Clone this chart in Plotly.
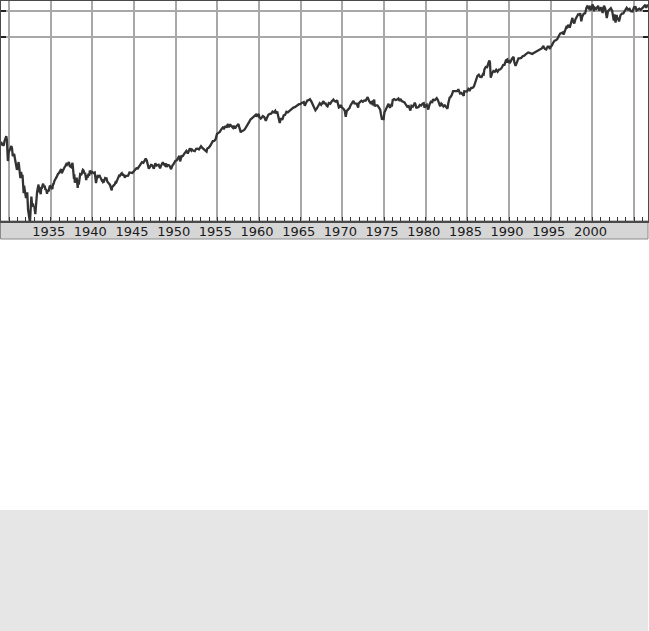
import plotly.graph_objects as go

# Dow Jones Industrial Average (log scale)
dates = [
    "1928-12-15",
    "1929-01-15", "1929-02-15", "1929-03-15", "1929-05-15", "1929-06-15", "1929-07-15", "1929-08-15", "1929-09-03", "1929-10-01", "1929-10-29", "1929-11-13", "1929-12-15",
    "1930-01-15", "1930-02-15", "1930-04-17", "1930-05-15", "1930-06-15", "1930-07-15", "1930-08-15", "1930-09-15", "1930-10-15", "1930-11-15", "1930-12-15",
    "1931-01-15", "1931-02-24", "1931-03-15", "1931-04-15", "1931-05-15", "1931-06-15", "1931-07-15", "1931-08-15", "1931-09-15", "1931-10-05", "1931-10-25", "1931-11-15", "1931-12-15",
    "1932-01-15", "1932-02-15", "1932-03-10", "1932-04-15", "1932-05-15", "1932-06-15", "1932-07-08", "1932-08-15", "1932-09-07", "1932-10-15", "1932-11-15", "1932-12-15",
    "1933-01-15", "1933-02-27", "1933-03-15", "1933-04-15", "1933-05-15", "1933-06-15", "1933-07-18", "1933-07-21", "1933-08-15", "1933-09-15", "1933-10-20", "1933-11-15", "1933-12-15",
    "1934-01-15", "1934-02-05", "1934-03-15", "1934-04-15", "1934-05-15", "1934-06-15", "1934-07-26", "1934-08-15", "1934-09-15", "1934-10-15", "1934-11-15", "1934-12-15",
    "1935-01-15", "1935-03-14", "1935-04-15", "1935-05-15", "1935-06-15", "1935-07-15", "1935-08-15", "1935-09-15", "1935-10-15", "1935-11-15", "1935-12-15",
    "1936-01-15", "1936-02-15", "1936-04-06", "1936-04-30", "1936-06-15", "1936-08-15", "1936-10-15", "1936-11-15", "1936-12-15",
    "1937-01-15", "1937-03-10", "1937-04-15", "1937-06-15", "1937-08-14", "1937-09-15", "1937-10-19", "1937-11-01", "1937-11-24", "1937-12-15",
    "1938-01-15", "1938-02-15", "1938-03-31", "1938-04-15", "1938-05-15", "1938-06-15", "1938-07-15", "1938-08-15", "1938-09-15", "1938-10-15", "1938-11-12", "1938-12-15",
    "1939-01-15", "1939-02-15", "1939-03-15", "1939-04-08", "1939-05-15", "1939-06-15", "1939-07-15", "1939-08-15", "1939-09-12", "1939-10-15", "1939-11-15", "1939-12-15",
    "1940-01-15", "1940-02-15", "1940-04-15", "1940-05-15", "1940-06-10", "1940-07-15", "1940-08-15", "1940-09-15", "1940-10-15", "1940-11-09", "1940-12-15",
    "1941-01-15", "1941-02-15", "1941-03-15", "1941-04-15", "1941-05-15", "1941-06-15", "1941-07-15", "1941-08-15", "1941-09-15", "1941-10-15", "1941-11-15", "1941-12-15",
    "1942-01-15", "1942-02-15", "1942-03-15", "1942-04-28", "1942-05-15", "1942-06-15", "1942-07-15", "1942-08-15", "1942-09-15", "1942-10-15", "1942-11-15", "1942-12-15",
    "1943-01-15", "1943-02-15", "1943-03-15", "1943-04-15", "1943-05-15", "1943-06-15", "1943-07-14", "1943-08-15", "1943-09-15", "1943-10-15", "1943-11-30", "1943-12-15",
    "1944-02-15", "1944-04-15", "1944-06-15", "1944-08-15", "1944-10-15", "1944-12-15",
    "1945-02-15", "1945-04-15", "1945-06-15", "1945-08-15", "1945-10-15", "1945-12-15",
    "1946-02-15", "1946-05-29", "1946-07-15", "1946-08-15", "1946-09-15", "1946-10-09", "1946-11-15", "1946-12-15",
    "1947-01-15", "1947-02-15", "1947-03-15", "1947-05-17", "1947-06-15", "1947-07-24", "1947-09-15", "1947-11-15", "1947-12-15",
    "1948-02-15", "1948-03-15", "1948-04-15", "1948-06-15", "1948-07-15", "1948-08-15", "1948-09-15", "1948-10-15", "1948-11-30",
    "1949-01-15", "1949-03-15", "1949-04-15", "1949-06-13", "1949-07-15", "1949-08-15", "1949-09-15", "1949-10-15", "1949-11-15", "1949-12-15",
    "1950-02-15", "1950-04-15", "1950-06-12", "1950-07-13", "1950-08-15", "1950-09-15", "1950-10-15", "1950-11-15", "1950-12-15",
    "1951-02-15", "1951-04-15", "1951-06-15", "1951-07-15", "1951-09-13", "1951-11-15", "1951-12-15",
    "1952-02-15", "1952-04-15", "1952-06-15", "1952-08-15", "1952-10-15", "1952-12-15",
    "1953-01-15", "1953-03-15", "1953-05-15", "1953-06-15", "1953-08-15", "1953-09-14", "1953-10-15", "1953-12-15",
    "1954-02-15", "1954-04-15", "1954-06-15", "1954-08-15", "1954-10-15", "1954-12-15",
    "1955-02-15", "1955-04-15", "1955-06-15", "1955-08-15", "1955-09-23", "1955-09-26", "1955-11-15", "1955-12-15",
    "1956-02-15", "1956-04-06", "1956-05-15", "1956-07-15", "1956-08-15", "1956-10-15", "1956-11-15", "1956-12-15",
    "1957-02-15", "1957-04-15", "1957-07-12", "1957-08-15", "1957-10-22", "1957-12-15",
    "1958-02-15", "1958-04-15", "1958-06-15", "1958-08-15", "1958-10-15", "1958-12-15",
    "1959-02-15", "1959-04-15", "1959-06-15", "1959-08-15", "1959-09-15", "1959-10-15", "1959-12-15",
    "1960-01-15", "1960-03-15", "1960-05-15", "1960-06-15", "1960-08-15", "1960-10-25", "1960-12-15",
    "1961-02-15", "1961-04-15", "1961-06-15", "1961-08-15", "1961-10-15", "1961-12-13",
    "1962-01-15", "1962-03-15", "1962-05-15", "1962-06-26", "1962-08-15", "1962-10-15", "1962-12-15",
    "1963-02-15", "1963-04-15", "1963-06-15", "1963-08-15", "1963-10-15", "1963-12-15",
    "1964-02-15", "1964-04-15", "1964-06-15", "1964-08-15", "1964-10-15", "1964-12-15",
    "1965-02-15", "1965-05-15", "1965-06-28", "1965-08-15", "1965-10-15", "1965-12-15",
    "1966-02-09", "1966-04-15", "1966-06-15", "1966-08-15", "1966-10-07", "1966-12-15",
    "1967-02-15", "1967-04-15", "1967-06-15", "1967-08-15", "1967-09-25", "1967-11-15", "1967-12-15",
    "1968-02-15", "1968-03-21", "1968-05-15", "1968-07-15", "1968-09-15", "1968-11-15", "1968-12-03",
    "1969-01-15", "1969-03-15", "1969-05-14", "1969-07-29", "1969-09-15", "1969-10-15", "1969-12-15",
    "1970-02-15", "1970-04-15", "1970-05-26", "1970-07-15", "1970-09-15", "1970-11-15", "1970-12-15",
    "1971-02-15", "1971-04-28", "1971-06-15", "1971-08-15", "1971-09-15", "1971-11-23", "1971-12-15",
    "1972-02-15", "1972-04-15", "1972-06-15", "1972-08-15", "1972-10-15", "1972-12-15",
    "1973-01-11", "1973-03-15", "1973-05-15", "1973-07-15", "1973-08-22", "1973-10-26", "1973-11-15", "1973-12-15",
    "1974-02-15", "1974-03-15", "1974-05-15", "1974-07-15", "1974-08-15", "1974-10-04", "1974-11-15", "1974-12-06",
    "1975-01-15", "1975-03-15", "1975-05-15", "1975-07-15", "1975-09-15", "1975-11-15", "1975-12-15",
    "1976-01-15", "1976-03-15", "1976-05-15", "1976-07-15", "1976-09-21", "1976-11-15", "1976-12-15",
    "1977-02-15", "1977-04-15", "1977-06-15", "1977-08-15", "1977-10-15", "1977-12-15",
    "1978-02-28", "1978-04-15", "1978-06-15", "1978-08-15", "1978-09-08", "1978-10-15", "1978-11-14", "1978-12-15",
    "1979-02-15", "1979-04-15", "1979-06-15", "1979-08-15", "1979-10-05", "1979-11-07", "1979-12-15",
    "1980-02-15", "1980-04-21", "1980-06-15", "1980-08-15", "1980-10-15", "1980-11-20", "1980-12-15",
    "1981-02-15", "1981-04-27", "1981-06-15", "1981-08-15", "1981-09-25", "1981-11-15", "1981-12-15",
    "1982-02-15", "1982-04-15", "1982-06-15", "1982-08-12", "1982-09-15", "1982-10-15", "1982-11-15", "1982-12-15",
    "1983-02-15", "1983-04-15", "1983-06-15", "1983-08-15", "1983-10-15", "1983-11-29", "1983-12-15",
    "1984-02-15", "1984-04-15", "1984-06-15", "1984-07-24", "1984-08-15", "1984-10-15", "1984-12-15",
    "1985-02-15", "1985-04-15", "1985-06-15", "1985-08-15", "1985-10-15", "1985-12-15",
    "1986-01-15", "1986-03-15", "1986-05-15", "1986-07-15", "1986-09-15", "1986-11-15", "1986-12-15",
    "1987-01-15", "1987-03-15", "1987-05-15", "1987-07-15", "1987-08-25", "1987-09-15", "1987-10-19", "1987-11-15", "1987-12-15",
    "1988-02-15", "1988-04-15", "1988-06-15", "1988-08-15", "1988-10-15", "1988-12-15",
    "1989-02-15", "1989-04-15", "1989-06-15", "1989-08-15", "1989-10-09", "1989-10-13", "1989-12-15",
    "1990-01-30", "1990-03-15", "1990-05-15", "1990-07-16", "1990-08-15", "1990-10-11", "1990-12-15",
    "1991-02-15", "1991-04-15", "1991-06-15", "1991-08-15", "1991-10-15", "1991-12-15",
    "1992-02-15", "1992-04-15", "1992-06-15", "1992-08-15", "1992-10-15", "1992-12-15",
    "1993-02-15", "1993-04-15", "1993-06-15", "1993-08-15", "1993-10-15", "1993-12-15",
    "1994-01-31", "1994-04-15", "1994-06-15", "1994-08-15", "1994-10-15", "1994-11-23", "1994-12-15",
    "1995-02-15", "1995-04-15", "1995-06-15", "1995-08-15", "1995-10-15", "1995-12-15",
    "1996-02-15", "1996-04-15", "1996-06-15", "1996-07-16", "1996-09-15", "1996-11-15", "1996-12-15",
    "1997-02-15", "1997-04-11", "1997-06-15", "1997-08-06", "1997-08-29", "1997-10-27", "1997-12-15",
    "1998-02-15", "1998-04-15", "1998-06-15", "1998-07-17", "1998-08-31", "1998-10-15", "1998-12-15",
    "1999-02-15", "1999-04-15", "1999-05-13", "1999-07-15", "1999-08-25", "1999-10-15", "1999-12-31",
    "2000-01-14", "2000-03-07", "2000-04-15", "2000-06-15", "2000-08-15", "2000-09-06", "2000-10-18", "2000-12-15",
    "2001-01-15", "2001-03-22", "2001-05-21", "2001-07-15", "2001-09-21", "2001-11-15", "2001-12-15",
    "2002-03-19", "2002-05-15", "2002-07-23", "2002-08-22", "2002-10-09", "2002-11-27", "2002-12-15",
    "2003-02-15", "2003-03-11", "2003-05-15", "2003-07-15", "2003-09-15", "2003-11-15", "2003-12-31",
    "2004-02-11", "2004-04-15", "2004-06-15", "2004-08-12", "2004-10-25", "2004-12-28",
    "2005-03-04", "2005-04-20", "2005-06-15", "2005-08-15", "2005-10-21", "2005-12-15",
    "2006-02-15", "2006-05-10", "2006-06-13", "2006-07-15", "2006-08-15", "2006-09-15",
]

dow = [
    300,
    317, 317, 308, 297, 333, 347, 370, 381, 343, 230, 199, 248,
    267, 271, 294, 275, 226, 233, 240, 214, 190, 183, 158,
    167, 194, 178, 151, 128, 150, 135, 139, 110, 86, 105, 93, 78,
    76, 81, 88, 56, 45, 44, 41, 73, 79, 61, 66, 60,
    61, 50, 60, 77, 89, 98, 108, 88, 102, 94, 84, 98, 99,
    107, 110, 101, 105, 94, 96, 85, 93, 90, 93, 103, 104,
    101, 96, 109, 110, 119, 126, 127, 131, 140, 142, 144,
    149, 152, 161, 145, 157, 166, 177, 184, 180,
    185, 194, 175, 170, 190, 154, 125, 141, 113, 121,
    121, 129, 99, 114, 108, 134, 141, 139, 141, 151, 158, 155,
    144, 147, 131, 121, 138, 130, 143, 135, 155, 152, 146, 150,
    145, 146, 148, 116, 112, 127, 134, 132, 134, 138, 131,
    124, 121, 123, 115, 116, 123, 128, 127, 127, 117, 115, 111,
    109, 107, 100, 93, 101, 104, 106, 107, 109, 115, 114, 120,
    125, 132, 136, 135, 143, 143, 145, 137, 140, 138, 129, 135,
    135, 136, 148, 147, 146, 152,
    160, 165, 164, 174, 187, 193,
    190, 212, 201, 190, 172, 163, 169, 177,
    180, 179, 177, 163, 177, 187, 177, 179, 181,
    165, 177, 180, 193, 181, 181, 178, 188, 171,
    179, 178, 174, 161, 175, 178, 182, 189, 193, 200,
    203, 214, 228, 197, 217, 226, 225, 227, 235,
    252, 259, 242, 257, 276, 261, 269,
    260, 257, 274, 275, 269, 292,
    293, 280, 272, 268, 261, 255, 276, 281,
    294, 319, 334, 336, 352, 404,
    411, 425, 451, 468, 487, 455, 483, 488,
    484, 521, 478, 518, 502, 480, 473, 500,
    464, 494, 521, 484, 420, 436,
    440, 455, 478, 508, 543, 584,
    603, 624, 643, 664, 632, 646, 679,
    622, 601, 626, 641, 626, 566, 616,
    662, 679, 684, 720, 704, 735,
    700, 706, 614, 536, 609, 580, 652,
    662, 717, 707, 729, 755, 763,
    800, 810, 831, 839, 873, 874,
    903, 922, 840, 893, 960, 969,
    995, 933, 870, 788, 744, 786,
    836, 897, 860, 901, 943, 875, 905,
    840, 825, 899, 883, 936, 960, 985,
    946, 935, 968, 801, 813, 856, 800,
    777, 736, 631, 734, 760, 794, 839,
    878, 950, 891, 898, 887, 798, 890,
    928, 954, 929, 964, 956, 1020,
    1052, 951, 901, 926, 852, 987, 822, 850,
    860, 847, 803, 757, 679, 584, 619, 578,
    704, 768, 832, 882, 794, 860, 852,
    975, 999, 975, 985, 1015, 947, 1005,
    947, 926, 916, 861, 818, 831,
    742, 837, 819, 877, 907, 860, 785, 805,
    809, 855, 842, 887, 897, 796, 839,
    863, 759, 868, 933, 925, 1000, 964,
    975, 1024, 977, 882, 824, 889, 875,
    824, 848, 812, 777, 896, 992, 1039, 1047,
    1112, 1226, 1222, 1216, 1225, 1287, 1259,
    1155, 1171, 1132, 1087, 1224, 1207, 1212,
    1300, 1258, 1336, 1334, 1390, 1547,
    1571, 1819, 1876, 1775, 1768, 1914, 1896,
    2158, 2305, 2292, 2572, 2722, 2596, 1738, 1834, 1939,
    2071, 2032, 2141, 2032, 2149, 2169,
    2258, 2419, 2440, 2737, 2791, 2569, 2753,
    2543, 2707, 2877, 2999, 2614, 2365, 2634,
    2882, 2887, 2906, 3044, 3069, 3169,
    3267, 3359, 3319, 3257, 3226, 3301,
    3370, 3428, 3516, 3651, 3681, 3754,
    3978, 3681, 3625, 3913, 3908, 3674, 3834,
    4011, 4321, 4556, 4611, 4756, 5117,
    5485, 5569, 5655, 5349, 5882, 6522, 6448,
    6877, 6391, 7673, 8259, 7622, 7161, 7908,
    8546, 9063, 8953, 9338, 7539, 8592, 9181,
    9307, 10789, 11107, 10655, 11326, 10019, 11497,
    11723, 9796, 10734, 10448, 11215, 11310, 9975, 10788,
    10887, 9389, 11337, 10523, 8236, 9852, 10022,
    10635, 9925, 7702, 9053, 7286, 8931, 8342,
    7891, 7524, 8850, 9234, 9275, 9782, 10454,
    10737, 10226, 10435, 9815, 9750, 10854,
    10940, 10012, 10275, 10482, 10215, 10718,
    10993, 11642, 10706, 11185, 11381, 11560,
]
assert len(dates) == len(dow)

tick_years = [1930, 1935, 1940, 1945, 1950, 1955, 1960, 1965, 1970,
              1975, 1980, 1985, 1990, 1995, 2000, 2005]
tick_labels = ["", "1935", "1940", "1945", "1950", "1955", "1960", "1965",
               "1970", "1975", "1980", "1985", "1990", "1995", "2000", ""]
y_grid = [5000, 10000]

W, H = 649, 631
fig = go.Figure()
fig.add_trace(go.Scatter(
    x=dates, y=dow, mode="lines",
    line=dict(color="#333333", width=2.3),
    hoverinfo="skip", showlegend=False,
))

plot_top, plot_bot = 1, 221
ylo = 1.6215
yhi = 4.1073

fig.update_layout(
    width=W, height=H,
    margin=dict(l=0, r=0, t=0, b=0),
    paper_bgcolor="white", plot_bgcolor="white",
    showlegend=False,
    xaxis=dict(
        type="date",
        domain=[1 / W, 648 / W],
        range=["1929-01-15", "2006-09-01"],
        tickmode="array",
        tickvals=[f"{y}-01-01" for y in tick_years],
        ticktext=tick_labels,
        showgrid=True, gridcolor="#a8a8a8", gridwidth=1.5,
        showline=True, linecolor="#4a4a4a", linewidth=2, mirror=True,
        ticks="inside", ticklen=4, tickwidth=1, tickcolor="#333",
        minor=dict(tickmode="linear", tick0="1930-01-01", dtick="M12",
                   ticks="inside", ticklen=4, tickwidth=1, tickcolor="#333",
                   showgrid=False),
        tickfont=dict(family="DejaVu Sans", size=13, color="#1a1a1a"),
        ticklabelshift=-2,
        ticklabelstandoff=-3,
        zeroline=False,
        fixedrange=True,
    ),
    yaxis=dict(
        type="log",
        domain=[1 - plot_bot / H, 1 - plot_top / H],
        range=[ylo, yhi],
        tickmode="array",
        tickvals=y_grid,
        showticklabels=False,
        showgrid=True, gridcolor="#a8a8a8", gridwidth=1.5,
        showline=True, linecolor="#4a4a4a", linewidth=2, mirror="ticks",
        ticks="inside", ticklen=5, tickwidth=2, tickcolor="#222",
        zeroline=False,
        fixedrange=True,
    ),
    shapes=[
        dict(type="rect", xref="paper", yref="paper", layer="below",
             x0=0.5 / W, x1=648 / W, y0=1 - 239 / H, y1=1 - 221 / H,
             fillcolor="#d6d6d6", line=dict(color="#8a8a8a", width=1)),
        dict(type="rect", xref="paper", yref="paper", layer="below",
             x0=0, x1=648 / W, y0=0, y1=1 - 510 / H,
             fillcolor="#e6e6e6", line=dict(width=0)),
    ],
)

fig.write_html(
    "out.html",
    config={"displayModeBar": False},
    post_script="document.body.style.margin='0';document.body.style.overflow='hidden';",
)
